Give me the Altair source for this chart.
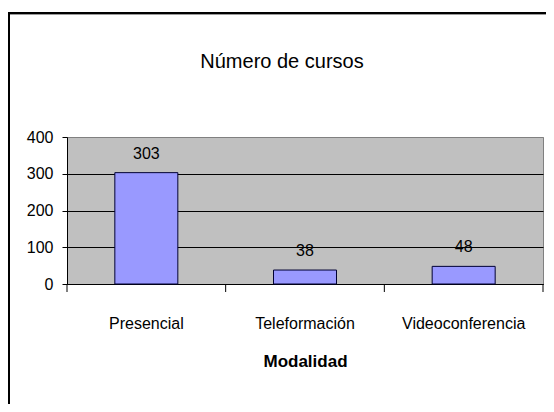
import altair as alt
import pandas as pd

categories = ["Presencial", "Teleformación", "Videoconferencia"]
values = [303, 38, 48]
y_ticks = [0, 100, 200, 300, 400]
chart_title = "Número de cursos"

df = pd.DataFrame({"Modalidad": categories, "cursos": values})

FONT = "Liberation Sans Narrow, Arial Narrow, Liberation Sans, Arial, sans-serif"
W, H = 476, 147

x_axis = alt.Axis(
    title="Modalidad", labelAngle=0, ticks=False, tickSize=0,
    domainColor="black", labelColor="black", labelFont=FONT, labelFontSize=16,
    labelPadding=31, titleFont=FONT, titleFontSize=17, titleFontWeight="bold",
    titleColor="black", titlePadding=22,
)
x_scale = alt.Scale(paddingInner=0, paddingOuter=0)
x_enc = alt.X("Modalidad:N", sort=categories, scale=x_scale, axis=x_axis)

y_enc = alt.Y(
    "cursos:Q",
    scale=alt.Scale(domain=[0, 400], nice=False),
    axis=alt.Axis(
        values=y_ticks, title=None, domainColor="black", tickColor="black",
        tickSize=5, labelPadding=9, labelColor="black", labelFont=FONT,
        labelFontSize=16, grid=True,
        gridColor={"condition": {"test": "datum.value == 400", "value": "#808080"}, "value": "black"},
    ),
)

base = alt.Chart(df)

bars = base.mark_bar(size=63, color="#9999FF", stroke="#000033", strokeWidth=1).encode(
    x=x_enc, y=y_enc
)

labels = base.mark_text(baseline="alphabetic", dy=-14, font=FONT, fontSize=16, color="black").encode(
    x=x_enc, y=y_enc, text="cursos:Q"
)

cat_ticks = base.mark_rule(color="black").encode(
    x=alt.X("Modalidad:N", sort=categories, scale=x_scale, axis=x_axis, bandPosition=0),
    y=alt.value(H), y2=alt.value(H + 8),
)

one = alt.Chart(pd.DataFrame({"k": [0]}))
last_tick = one.mark_rule(color="black").encode(x=alt.value(W), y=alt.value(H), y2=alt.value(H + 8))
border_v = one.mark_rule(color="black", strokeWidth=2).encode(
    x=alt.value(-58), y=alt.value(-125), y2=alt.value(270)
)
border_h = one.mark_rule(color="black", strokeWidth=2).encode(
    x=alt.value(-59), x2=alt.value(W + 3), y=alt.value(-124)
)
shadow_h = one.mark_rule(color="#9a9a9a", strokeWidth=1).encode(
    x=alt.value(-57), x2=alt.value(W + 3), y=alt.value(-122.5)
)
title_text = one.mark_text(
    font=FONT, fontSize=20, color="black", align="center", baseline="alphabetic"
).encode(x=alt.value(215), y=alt.value(-69), text=alt.value(chart_title))

chart = alt.layer(
    bars, labels, cat_ticks, last_tick, border_v, border_h, shadow_h, title_text
).properties(
    width=W, height=H,
    padding={"left": 59, "top": 129, "right": 3, "bottom": 120},
    autosize="none",
    background="white",
).configure_view(stroke="#808080", fill="#C0C0C0")

chart.save("out.html", embed_options={"renderer": "svg", "actions": False})
